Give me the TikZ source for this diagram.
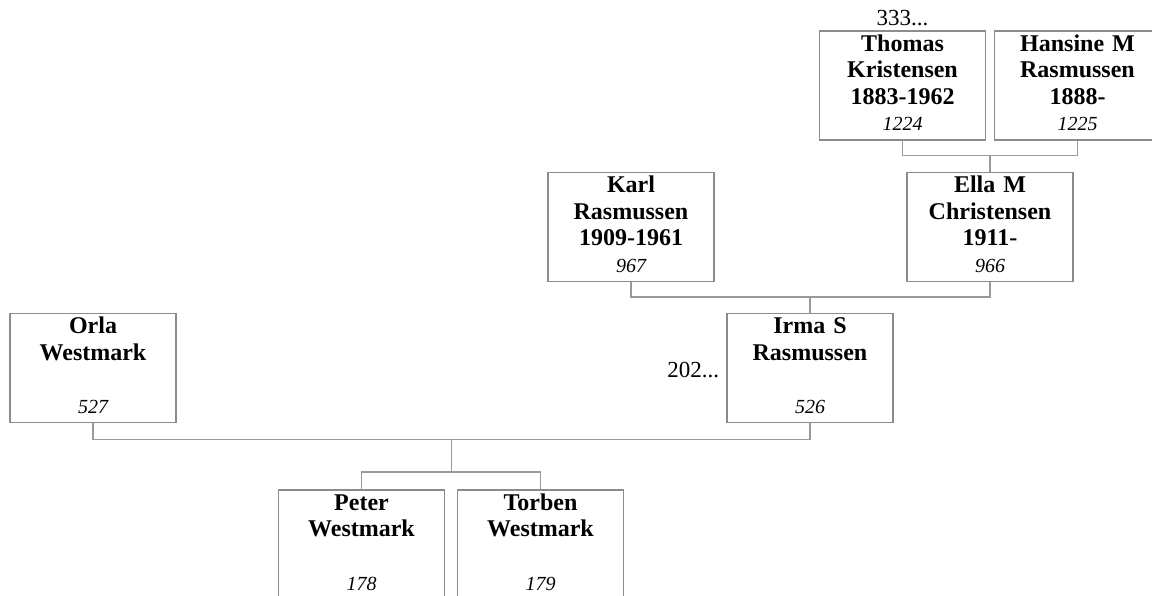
\documentclass[tikz,border=0pt]{standalone}
\usepackage{fontspec}
\setmainfont{Liberation Serif}
\usetikzlibrary{calc}
\definecolor{boxgray}{HTML}{8C8C8C}
\definecolor{linegray}{HTML}{9A9A9A}
\tikzset{
  person/.style={draw=boxgray, line width=1.3pt, fill=white, minimum width=166pt, minimum height=109pt, inner sep=0pt},
  nametext/.style={anchor=base, text width=164pt, align=center, inner sep=0pt,
    font=\fontsize{24}{26.5}\selectfont\bfseries},
  numtext/.style={anchor=base, inner sep=0pt, font=\fontsize{20}{22}\selectfont\itshape},
  reftext/.style={inner sep=0pt, font=\fontsize{23}{26}\selectfont},
  conn/.style={draw=linegray, line width=1.3pt}
}
\begin{document}
\begin{tikzpicture}[x=1pt, y=-1pt]
\useasboundingbox (0,0) rectangle (1152,596);
\clip (0,0) rectangle (1152,596);
% boxes
\node[person] (thomas) at (902.5,85.5) {};
\node[person] (hansine) at (1077.5,85.5) {};
\node[person] (karl) at (631,227) {};
\node[person] (ella) at (990,227) {};
\node[person] (orla) at (93,368) {};
\node[person] (irma) at (810,368) {};
\node[person, minimum height=110pt] (peter) at (361.5,545) {};
\node[person, minimum height=110pt] (torben) at (540.5,545) {};
% names
\node[nametext, yshift=-21pt] (thomasN) at (thomas.north) {Thomas\\Kristensen\\1883-1962};
\node[numtext, yshift=10pt] (thomasR) at (thomas.south) {1224};
\node[nametext, yshift=-21pt] (hansineN) at (hansine.north) {Hansine M\\Rasmussen\\1888-};
\node[numtext, yshift=10pt] (hansineR) at (hansine.south) {1225};
\node[nametext, yshift=-21pt] (karlN) at (karl.north) {Karl\\Rasmussen\\1909-1961};
\node[numtext, yshift=10pt] (karlR) at (karl.south) {967};
\node[nametext, yshift=-21pt] (ellaN) at (ella.north) {Ella M\\Christensen\\1911-};
\node[numtext, yshift=10pt] (ellaR) at (ella.south) {966};
\node[nametext, yshift=-21pt] (orlaN) at (orla.north) {Orla\\Westmark};
\node[numtext, yshift=10pt] (orlaR) at (orla.south) {527};
\node[nametext, yshift=-21pt] (irmaN) at (irma.north) {Irma S\\Rasmussen};
\node[numtext, yshift=10pt] (irmaR) at (irma.south) {526};
\node[nametext, yshift=-21pt] (peterN) at (peter.north) {Peter\\Westmark};
\node[numtext, yshift=10pt] (peterR) at (peter.south) {178};
\node[nametext, yshift=-21pt] (torbenN) at (torben.north) {Torben\\Westmark};
\node[numtext, yshift=10pt] (torbenR) at (torben.south) {179};
% references
\node[reftext, anchor=base, yshift=5pt] (ref333) at (thomas.north) {333...};
\node[reftext, anchor=east, xshift=-7pt, yshift=-2pt] (ref202) at (irma.west) {202...};
% connectors
\draw[conn] (thomas.south) -- ++(0,15) coordinate (tj) -| (hansine.south);
\draw[conn] (ella.north) -- (ella.north |- tj);
\draw[conn] (karl.south) -- ++(0,15) coordinate (kj) -| (ella.south);
\draw[conn] (irma.north) -- (irma.north |- kj);
\draw[conn] (orla.south) -- ++(0,16) coordinate (oj) -| (irma.south);
\coordinate (fam) at ($(orla.south)!0.5!(irma.south)$);
\coordinate (kidbar) at (0,472);
\draw[conn] (fam |- oj) -- (fam |- kidbar);
\draw[conn] (peter.north) -- (peter.north |- kidbar) -- (torben.north |- kidbar) -- (torben.north);
\end{tikzpicture}
\end{document}
